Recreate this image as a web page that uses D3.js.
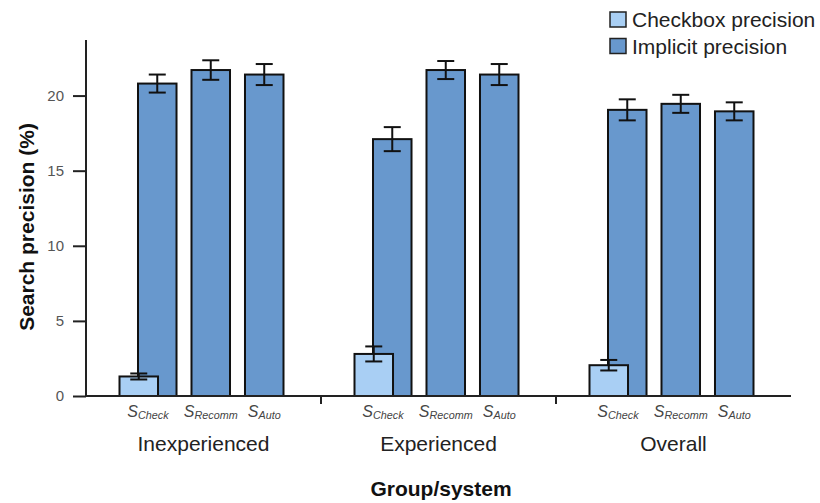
<!DOCTYPE html>
<html>
<head>
<meta charset="utf-8">
<script src="https://cdn.jsdelivr.net/npm/d3@7"></script>
<style>
  html, body { margin: 0; padding: 0; background: #fff; }
  svg { display: block; font-family: "Liberation Sans", Arial, sans-serif; }
</style>
</head>
<body>
<svg id="chart" width="820" height="503"></svg>
<script>
// ---- data ----
const groups = ["Inexperienced", "Experienced", "Overall"];
const systems = ["Check", "Recomm", "Auto"];
const implicitInexperienced = [20.8, 21.7, 21.4];
const implicitExperienced = [17.1, 21.7, 21.4];
const implicitOverall = [19.05, 19.45, 18.95];
const implicitErrInexperienced = [0.6, 0.65, 0.7];
const implicitErrExperienced = [0.8, 0.6, 0.7];
const implicitErrOverall = [0.7, 0.6, 0.6];
const checkboxValues = [1.3, 2.8, 2.05];
const checkboxErr = [0.2, 0.5, 0.35];
const yMajorTicks = [0, 5, 10, 15, 20];
const seriesNames = ["Checkbox precision", "Implicit precision"];

const implicitValues = [implicitInexperienced, implicitExperienced, implicitOverall];
const implicitErr = [implicitErrInexperienced, implicitErrExperienced, implicitErrOverall];

const colCheckbox = "#a9cff4";
const colImplicit = "#6898cd";

const svg = d3.select("#chart");

const x0 = 86, x1 = 791, yBottom = 396, yTop = 40;
const y = d3.scaleLinear().domain([0, 23.7]).range([yBottom, yTop]);
const gx = d3.scaleBand().domain(groups).range([x0, x1]).padding(0);
const sx = d3.scaleBand().domain(systems).range([52, 197.5]).paddingInner(0.28).paddingOuter(0);
const bw = sx.bandwidth();
const cbOffset = -18.5;

// ---- bars ----
const barsData = [];
groups.forEach((g, gi) => {
  systems.forEach((s, si) => {
    barsData.push({g, s, v: implicitValues[gi][si], e: implicitErr[gi][si]});
  });
});

const plot = svg.append("g");

function errBar(sel, cx, v, e) {
  const cap = 8.5;
  sel.append("line").attr("x1", cx).attr("x2", cx).attr("y1", y(v + e)).attr("y2", y(v - e))
    .attr("stroke", "#111").attr("stroke-width", 2);
  sel.append("line").attr("x1", cx - cap).attr("x2", cx + cap).attr("y1", y(v + e)).attr("y2", y(v + e))
    .attr("stroke", "#111").attr("stroke-width", 2);
  sel.append("line").attr("x1", cx - cap).attr("x2", cx + cap).attr("y1", y(v - e)).attr("y2", y(v - e))
    .attr("stroke", "#111").attr("stroke-width", 2);
}

barsData.forEach(d => {
  const bx = gx(d.g) + sx(d.s);
  plot.append("rect")
    .attr("x", bx).attr("y", y(d.v))
    .attr("width", bw).attr("height", y(0) - y(d.v))
    .attr("fill", colImplicit).attr("stroke", "#111").attr("stroke-width", 2);
  errBar(plot, bx + bw / 2, d.v, d.e);
});

groups.forEach((g, gi) => {
  const bx = gx(g) + sx("Check") + cbOffset;
  const v = checkboxValues[gi];
  plot.append("rect")
    .attr("x", bx).attr("y", y(v))
    .attr("width", bw).attr("height", y(0) - y(v))
    .attr("fill", colCheckbox).attr("stroke", "#111").attr("stroke-width", 2);
  errBar(plot, bx + bw / 2, v, checkboxErr[gi]);
});

// ---- y axis ----
const minorAxis = d3.axisLeft(y).tickValues(d3.range(0, 24)).tickSize(8).tickFormat("");
const majorAxis = d3.axisLeft(y).tickValues(yMajorTicks).tickSize(13).tickPadding(9);
const ya = svg.append("g").attr("transform", `translate(${x0},0)`);
ya.call(minorAxis);
ya.call(majorAxis);
ya.selectAll("path.domain").attr("stroke", "#222").attr("stroke-width", 2)
  .attr("d", `M0,${yTop}V${yBottom}`);
ya.selectAll(".tick line").attr("stroke", "#222").attr("stroke-width", 2);
ya.selectAll(".tick text").attr("font-size", 15).attr("fill", "#555")
  .attr("font-family", "Liberation Sans, Arial, sans-serif");

// ---- x axis ----
const xa = svg.append("g");
xa.append("line").attr("x1", x0).attr("x2", x1).attr("y1", yBottom).attr("y2", yBottom)
  .attr("stroke", "#222").attr("stroke-width", 2);
groups.slice(1).forEach(g => {
  xa.append("line").attr("x1", gx(g)).attr("x2", gx(g)).attr("y1", yBottom).attr("y2", yBottom + 8)
    .attr("stroke", "#222").attr("stroke-width", 2);
});

// system labels
groups.forEach(g => {
  systems.forEach(s => {
    let cx = gx(g) + sx(s) + bw / 2;
    if (s === "Check") cx = gx(g) + sx(s) + cbOffset + (bw - cbOffset) / 2;
    const t = xa.append("text").attr("x", cx).attr("y", 417).attr("text-anchor", "middle")
      .attr("fill", "#444").attr("font-style", "italic");
    t.append("tspan").attr("font-size", 16).text("S");
    t.append("tspan").attr("font-size", 10.8).attr("dy", 2).text(s);
  });
  xa.append("text").attr("x", gx(g) + gx.bandwidth() / 2).attr("y", 451)
    .attr("text-anchor", "middle").attr("font-size", 21).attr("fill", "#222").text(g);
});

// axis titles
svg.append("text").attr("x", 441).attr("y", 496).attr("text-anchor", "middle")
  .attr("font-size", 21).attr("font-weight", "bold").attr("fill", "#111").text("Group/system");
svg.append("text").attr("transform", "translate(34,227) rotate(-90)").attr("text-anchor", "middle")
  .attr("font-size", 21).attr("font-weight", "bold").attr("fill", "#111").text("Search precision (%)");

// ---- legend ----
const legend = svg.append("g");
[colCheckbox, colImplicit].forEach((c, i) => {
  legend.append("rect").attr("x", 610).attr("y", 12 + i * 26.5).attr("width", 16).attr("height", 15)
    .attr("fill", c).attr("stroke", "#222").attr("stroke-width", 1.5);
  legend.append("text").attr("x", 632).attr("y", 27 + i * 26.5).attr("font-size", 21)
    .attr("fill", "#222").text(seriesNames[i]);
});
</script>
</body>
</html>
